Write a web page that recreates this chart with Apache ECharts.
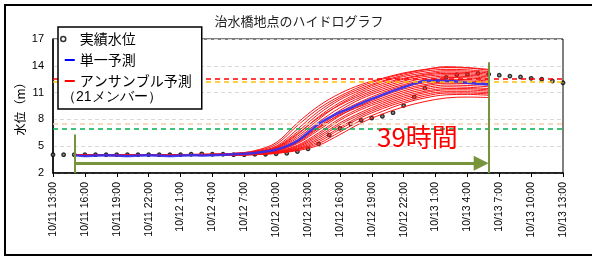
<!DOCTYPE html>
<html>
<head>
<meta charset="utf-8">
<script src="https://cdn.jsdelivr.net/npm/echarts@6/dist/echarts.min.js"></script>
<style>
  html, body { margin: 0; padding: 0; background: #fff; }
  #chart { width: 592px; height: 257px; }
</style>
</head>
<body>
<div id="chart"></div>
<script>
// x axis = hours after 10/11 13:00
var xTickLabels = ['10/11 13:00', '10/11 16:00', '10/11 19:00', '10/11 22:00', '10/12 1:00', '10/12 4:00',
  '10/12 7:00', '10/12 10:00', '10/12 13:00', '10/12 16:00', '10/12 19:00', '10/12 22:00',
  '10/13 1:00', '10/13 4:00', '10/13 7:00', '10/13 10:00', '10/13 13:00'];

// 実績水位, hourly from hour 0 to 48
var observed = [4.05, 4.05, 4.05, 4.05, 4.05, 4.05, 4.05, 4.05, 4.05, 4.05, 4.05, 4.05, 4.05, 4.1, 4.15, 4.1, 4.1,
  4.05, 4.05, 4.1, 4.1, 4.15, 4.2, 4.4, 4.7, 5.25, 6.25, 7.0, 7.5, 7.9, 8.15, 8.35, 8.75, 9.55, 10.5, 11.5,
  12.3, 12.7, 13.0, 13.05, 13.15, 13.05, 12.95, 12.85, 12.75, 12.6, 12.5, 12.3, 12.1];

// 単一予測, hourly from hour 2 to 41
var singleStart = 2;
var single = [4.0, 3.9, 3.95, 4.0, 3.95, 3.9, 3.95, 4.0, 3.95, 3.9, 3.95, 4.0, 3.95, 4.0, 4.05, 4.1, 4.15, 4.25,
  4.4, 4.6, 5.0, 5.6, 6.5, 7.5, 8.2, 8.8, 9.25, 9.8, 10.3, 10.75, 11.2, 11.6, 12.0, 12.3, 12.35, 12.3, 12.25,
  12.1, 12.0, 11.9];

// アンサンブル予測 (21 members)
var ensHours = [2, 6, 10, 14, 17, 19, 21, 23, 25, 27, 29, 31, 33, 35, 37, 39, 41];
var ensemble = [
  [4.0, 4.0, 4.05, 4.1, 4.2, 4.5, 5.4, 7.6, 9.5, 10.9, 11.9, 12.6, 13.2, 13.6, 13.9, 13.8, 13.6],
  [4.0, 3.95, 4.0, 4.05, 4.2, 4.45, 5.2, 7.3, 9.2, 10.6, 11.7, 12.5, 13.1, 13.55, 13.8, 13.75, 13.5],
  [4.0, 4.0, 4.0, 4.05, 4.15, 4.4, 5.0, 6.9, 8.9, 10.4, 11.5, 12.3, 12.95, 13.4, 13.6, 13.55, 13.35],
  [4.0, 4.05, 4.0, 4.1, 4.15, 4.35, 4.9, 6.6, 8.6, 10.2, 11.3, 12.2, 12.8, 13.2, 13.45, 13.4, 13.2],
  [4.0, 3.95, 4.05, 4.05, 4.1, 4.3, 4.8, 6.3, 8.3, 9.9, 11.1, 12.0, 12.6, 13.05, 13.3, 13.25, 13.05],
  [4.0, 4.0, 3.95, 4.0, 4.1, 4.3, 4.75, 6.1, 8.0, 9.7, 10.9, 11.8, 12.5, 12.95, 13.15, 13.1, 12.9],
  [4.0, 4.0, 4.0, 4.05, 4.15, 4.35, 4.85, 6.4, 8.2, 9.6, 10.7, 11.6, 12.3, 12.8, 13.0, 12.95, 12.75],
  [4.0, 3.95, 4.0, 4.0, 4.1, 4.25, 4.7, 5.9, 7.7, 9.3, 10.5, 11.4, 12.1, 12.6, 12.85, 12.8, 12.6],
  [4.0, 4.0, 4.05, 4.05, 4.1, 4.25, 4.6, 5.7, 7.4, 9.0, 10.3, 11.2, 11.9, 12.4, 12.7, 12.65, 12.45],
  [4.0, 4.0, 4.0, 4.0, 4.05, 4.2, 4.55, 5.6, 7.2, 8.8, 10.0, 11.0, 11.75, 12.25, 12.5, 12.45, 12.3],
  [4.0, 3.95, 4.0, 4.05, 4.1, 4.2, 4.5, 5.4, 7.0, 8.6, 9.8, 10.8, 11.6, 12.1, 12.35, 12.3, 12.15],
  [4.0, 4.0, 3.95, 4.0, 4.05, 4.15, 4.45, 5.3, 6.8, 8.4, 9.6, 10.6, 11.4, 11.9, 12.2, 12.15, 12.0],
  [4.0, 4.0, 4.0, 4.05, 4.1, 4.2, 4.5, 5.5, 7.1, 8.5, 9.5, 10.4, 11.2, 11.75, 12.05, 12.0, 11.85],
  [4.0, 3.95, 4.0, 4.0, 4.05, 4.15, 4.4, 5.1, 6.5, 8.1, 9.3, 10.2, 11.0, 11.55, 11.85, 11.8, 11.65],
  [4.0, 4.0, 4.05, 4.0, 4.05, 4.1, 4.35, 5.0, 6.3, 7.9, 9.1, 10.0, 10.8, 11.35, 11.65, 11.6, 11.45],
  [4.0, 4.0, 4.0, 4.05, 4.05, 4.1, 4.3, 4.9, 6.1, 7.6, 8.8, 9.8, 10.6, 11.15, 11.45, 11.45, 11.3],
  [4.0, 3.95, 4.0, 4.0, 4.05, 4.1, 4.3, 4.8, 5.9, 7.4, 8.6, 9.6, 10.4, 11.0, 11.3, 11.3, 11.15],
  [4.0, 4.0, 3.95, 4.0, 4.0, 4.1, 4.25, 4.7, 5.7, 7.1, 8.4, 9.4, 10.2, 10.8, 11.1, 11.1, 11.0],
  [4.0, 4.0, 4.0, 4.05, 4.05, 4.1, 4.25, 4.65, 5.5, 6.9, 8.2, 9.2, 10.0, 10.6, 10.95, 10.95, 10.85],
  [4.0, 3.95, 4.0, 4.0, 4.0, 4.05, 4.2, 4.6, 5.3, 6.6, 7.9, 8.9, 9.8, 10.4, 10.75, 10.8, 10.7],
  [4.0, 4.0, 4.0, 4.0, 4.0, 4.05, 4.2, 4.5, 5.1, 6.3, 7.6, 8.6, 9.4, 10.0, 10.4, 10.5, 10.45]
];

// 基準水位 lines
var thresholds = [12.6, 12.2, 7.5, 7.0];
var thresholdColors = ['#FF0000', '#FFC000', '#F8CBAD', '#00B050'];

// lead time annotation
var leadStart = 2;
var leadHours = 39;

var myChart = echarts.init(document.getElementById('chart'));

var ensName = 'アンサンブル予測';
var series = [];

var markData = thresholds.map(function (v, i) {
  return {
    yAxis: v,
    lineStyle: { color: thresholdColors[i], type: [5, 4], width: 1.5 }
  };
});
var green = '#77933C';
var leadEnd = leadStart + leadHours;
markData.push([{ coord: [leadStart, 2], lineStyle: { color: green, width: 2, type: 'solid' } }, { coord: [leadStart, 6.3] }]);
markData.push([{ coord: [leadEnd, 2], lineStyle: { color: green, width: 2, type: 'solid' } }, { coord: [leadEnd, 14.4] }]);
markData.push([
  { coord: [leadStart, 3.1], lineStyle: { color: green, width: 3, type: 'solid' }, symbol: 'none' },
  { coord: [leadEnd - 0.7, 3.1], symbol: 'triangle', symbolSize: 15 }
]);

series.push({
  name: 'annot',
  type: 'line',
  data: [],
  markLine: {
    silent: true,
    symbol: 'none',
    animation: false,
    label: { show: false },
    data: markData
  },
  markPoint: {
    silent: true,
    symbol: 'rect',
    symbolSize: 0,
    animation: false,
    data: [{ coord: [34.3, 6.05] }],
    label: {
      show: true,
      position: 'inside',
      formatter: leadHours + '時間',
      color: '#FF0000',
      fontSize: 26,
      fontFamily: 'Noto Sans CJK JP'
    }
  }
});

ensemble.forEach(function (member) {
  series.push({
    name: ensName,
    type: 'line',
    smooth: 0.35,
    symbol: 'none',
    silent: true,
    animation: false,
    color: '#FF0000',
    lineStyle: { width: 1, color: '#FF1010', opacity: 1 },
    data: member.map(function (v, i) { return [ensHours[i], v]; })
  });
});

series.push({
  name: '単一予測',
  type: 'line',
  smooth: 0.3,
  symbol: 'none',
  animation: false,
  color: '#2F2FFF',
  lineStyle: { width: 2.5, color: '#3030F5', opacity: 0.9 },
  data: single.map(function (v, i) { return [singleStart + i, v]; })
});

series.push({
  name: '実績水位',
  type: 'scatter',
  symbol: 'circle',
  symbolSize: 3.5,
  animation: false,
  itemStyle: { color: '#777', borderColor: '#000', borderWidth: 1.3 },
  data: observed.map(function (v, i) { return [i, v]; })
});

// legend icons: the leading M points fix the box so the marks keep their size
var dotIcon = 'path://M0,0M14,14M0,7a2.5,2.5 0 1,0 5,0a2.5,2.5 0 1,0 -5,0Z';
var lineIcon = 'path://M0,0M14,14M4,6H14V8H4Z';

var option = {
  backgroundColor: '#fff',
  textStyle: { fontFamily: "'Liberation Sans', 'Noto Sans CJK JP', sans-serif" },
  title: {
    text: '治水橋地点のハイドログラフ',
    left: 299,
    textAlign: 'center',
    top: 15,
    padding: 0,
    textStyle: { fontSize: 13, fontWeight: 'normal', color: '#222', fontFamily: 'Noto Sans CJK JP' }
  },
  legend: {
    orient: 'vertical',
    left: 58,
    top: 27,
    z: 20,
    padding: [3, 10, 19, 2],
    itemGap: 3,
    itemWidth: 14,
    itemHeight: 14,
    backgroundColor: '#fff',
    borderColor: '#000',
    borderWidth: 1.5,
    borderRadius: 0,
    selectedMode: false,
    textStyle: { fontSize: 14, lineHeight: 18, color: '#000', fontFamily: 'Noto Sans CJK JP' },
    data: [
      { name: '実績水位', icon: dotIcon, itemStyle: { color: '#fff', borderColor: '#000', borderWidth: 1.5 } },
      { name: '単一予測', icon: lineIcon, itemStyle: { color: '#0000FF', borderWidth: 0 } },
      { name: ensName, icon: lineIcon, itemStyle: { color: '#FF0000', borderWidth: 0 } }
    ]
  },
  graphic: [
    {
      type: 'text',
      left: 62,
      top: 90,
      z: 100,
      style: { text: '（21メンバー）', fontSize: 14, fill: '#000', font: '14px "Noto Sans CJK JP"' }
    },
    {
      type: 'rect',
      shape: { x: 5, y: 5, width: 620, height: 250 },
      style: { fill: 'none', stroke: '#000', lineWidth: 2 },
      silent: true,
      z: 100
    }
  ],
  grid: {
    left: 53,
    right: 29,
    top: 39,
    bottom: 84,
    show: true,
    borderColor: '#000',
    borderWidth: 1
  },
  xAxis: {
    type: 'value',
    min: 0,
    max: 48,
    interval: 3,
    axisLine: { lineStyle: { color: '#000', width: 1.5 } },
    axisTick: { show: true, length: 4, lineStyle: { color: '#000' } },
    splitLine: { show: false },
    axisLabel: {
      rotate: 90,
      margin: 9,
      fontSize: 10.5,
      color: '#000',
      formatter: function (v) { return xTickLabels[Math.round(v / 3)]; }
    }
  },
  yAxis: {
    type: 'value',
    min: 2,
    max: 17,
    interval: 3,
    name: '水位（m）',
    nameLocation: 'middle',
    nameRotate: 90,
    nameGap: 27,
    nameMoveOverlap: false,
    nameTextStyle: { fontSize: 12, color: '#000', fontFamily: 'Noto Sans CJK JP' },
    axisLine: { show: true, lineStyle: { color: '#000', width: 1.5 } },
    axisTick: { show: false },
    axisLabel: { fontSize: 11, color: '#000', margin: 9 },
    splitLine: { show: true, lineStyle: { color: '#D9D9D9', type: [4, 3], width: 1 } }
  },
  series: series
};

myChart.setOption(option);
</script>
</body>
</html>
